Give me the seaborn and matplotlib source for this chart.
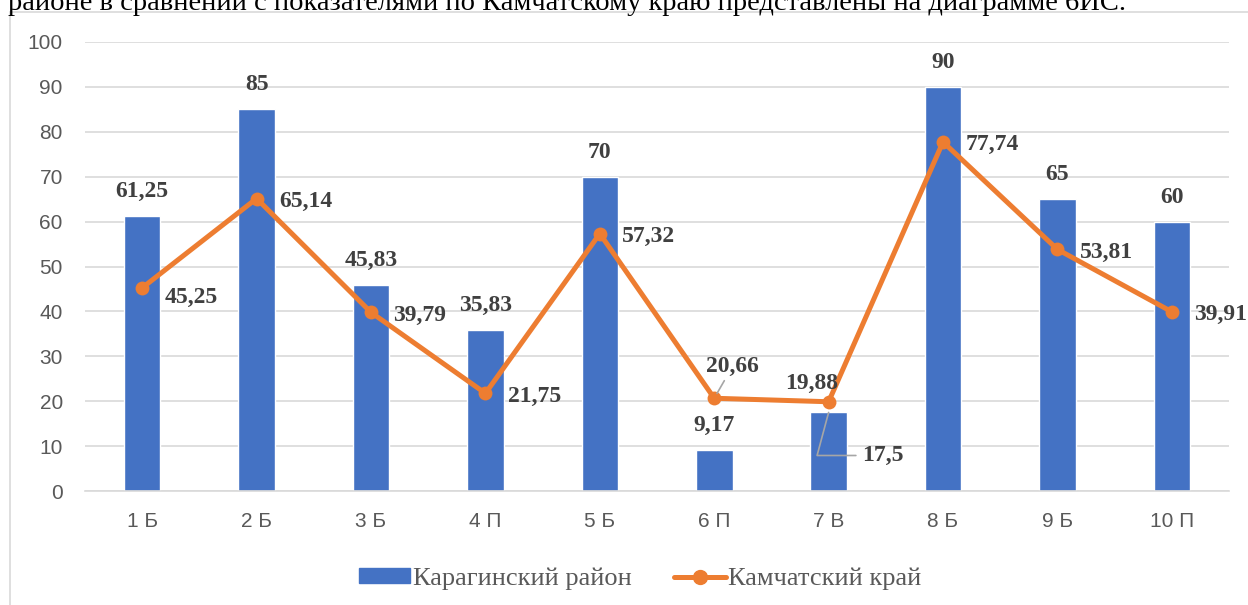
import numpy as np
import matplotlib
matplotlib.use("Agg")
import matplotlib.pyplot as plt
import matplotlib.patches as mpatches
from matplotlib.lines import Line2D
import seaborn as sns

# data
categories = ["1 Б", "2 Б", "3 Б", "4 П", "5 Б", "6 П", "7 В", "8 Б", "9 Б", "10 П"]
karaginsky = [61.25, 85, 45.83, 35.83, 70, 9.17, 17.5, 90, 65, 60]
kamchatka = [45.25, 65.14, 39.79, 21.75, 57.32, 20.66, 19.88, 77.74, 53.81, 39.91]
yticks = [0, 10, 20, 30, 40, 50, 60, 70, 80, 90, 100]

BLUE = "#4472C4"
ORANGE = "#ED7D31"
GRID = "#D9D9D9"
TXT = "#595959"
LBL = "#404040"
SERIF = "Liberation Serif"
SANS = "Liberation Sans"

sns.set_theme(style="white")
plt.rcParams["font.family"] = [SANS, "DejaVu Sans"]

fig = plt.figure(figsize=(12.48, 6.05), dpi=100)
ax = fig.add_axes([0.0681, 0.1884, 0.9167, 0.7422])

# chart frame (cropped on right/bottom)
frame = mpatches.Rectangle((10 / 1248, -0.1), 1.2, 1 - 12 / 605 + 0.1,
                           transform=fig.transFigure, fill=False,
                           edgecolor=GRID, lw=1.2, zorder=0)
fig.patches.append(frame)

# clipped sentence above the chart
fig.text(8 / 1248, 1 - 10 / 605, "районе в сравнении с показателями по Камчатскому краю "
         "представлены на диаграмме 6ИС.", family=SERIF, fontsize=20.5,
         color="black", va="baseline", ha="left")

x = np.arange(len(categories))
sns.barplot(x=categories, y=karaginsky, color=BLUE, width=0.32,
            saturation=1, ax=ax, zorder=2)
sns.lineplot(x=x, y=kamchatka, color=ORANGE, lw=3.6, marker="o",
             markersize=10, markeredgewidth=0, ax=ax, zorder=3)

ax.set_xlim(-0.5, len(categories) - 0.5)
ax.set_ylim(0, 100)
ax.set_yticks(yticks)
ax.yaxis.grid(True, color=GRID, lw=1.2, zorder=0)
ax.set_axisbelow(True)
for s in ["top", "right", "left"]:
    ax.spines[s].set_visible(False)
ax.spines["bottom"].set_color(GRID)
ax.spines["bottom"].set_linewidth(1.2)
ax.tick_params(axis="both", length=0, labelsize=15, colors=TXT)
ax.tick_params(axis="y", pad=16)
ax.tick_params(axis="x", pad=15)
ax.set_xlabel("")
ax.set_ylabel("")

lbl = dict(family=SERIF, fontsize=17, fontweight="bold", color=LBL, zorder=5)
fmt = lambda v: f"{v:g}".replace(".", ",")

# bar labels
for i, v in enumerate(karaginsky):
    if i == 6:
        ax.annotate(fmt(v), (i, v), xytext=(24, -31), textcoords="offset points",
                    ha="left", va="center",
                    arrowprops=dict(arrowstyle="-", color="#A6A6A6", lw=1.2,
                                    connectionstyle="angle,angleA=0,angleB=75,rad=0",
                                    shrinkA=2, shrinkB=0), **lbl)
    else:
        ax.annotate(fmt(v), (i, v), xytext=(0, 10), textcoords="offset points",
                    ha="center", va="bottom", **lbl)

# line labels
line_off = {0: (16, -7), 5: (13, 15), 6: (-12, 13)}
for i, v in enumerate(kamchatka):
    dx, dy = line_off.get(i, (16, -2))
    if i == 5:
        ax.annotate(fmt(v), (i, v), xytext=(dx, dy), textcoords="offset points",
                    ha="center", va="bottom",
                    arrowprops=dict(arrowstyle="-", color="#A6A6A6", lw=1.2,
                                    shrinkA=0, shrinkB=4), **lbl)
    elif i == 6:
        ax.annotate(fmt(v), (i, v), xytext=(dx, dy), textcoords="offset points",
                    ha="center", va="center", **lbl)
    else:
        ax.annotate(fmt(v), (i, v), xytext=(dx, dy), textcoords="offset points",
                    ha="left", va="center", **lbl)

handles = [mpatches.Patch(color=BLUE, label="Карагинский район"),
           Line2D([0], [0], color=ORANGE, lw=3.6, marker="o", markersize=10,
                  label="Камчатский край")]
fig.legend(handles=handles, loc="center", bbox_to_anchor=(0.513, 0.043), ncol=2,
           frameon=False, prop=dict(family=SERIF, size=19), labelcolor=TXT,
           handlelength=1.95, handleheight=0.5, handletextpad=0.1,
           columnspacing=1.6)

fig.savefig("out.png", dpi=100)
